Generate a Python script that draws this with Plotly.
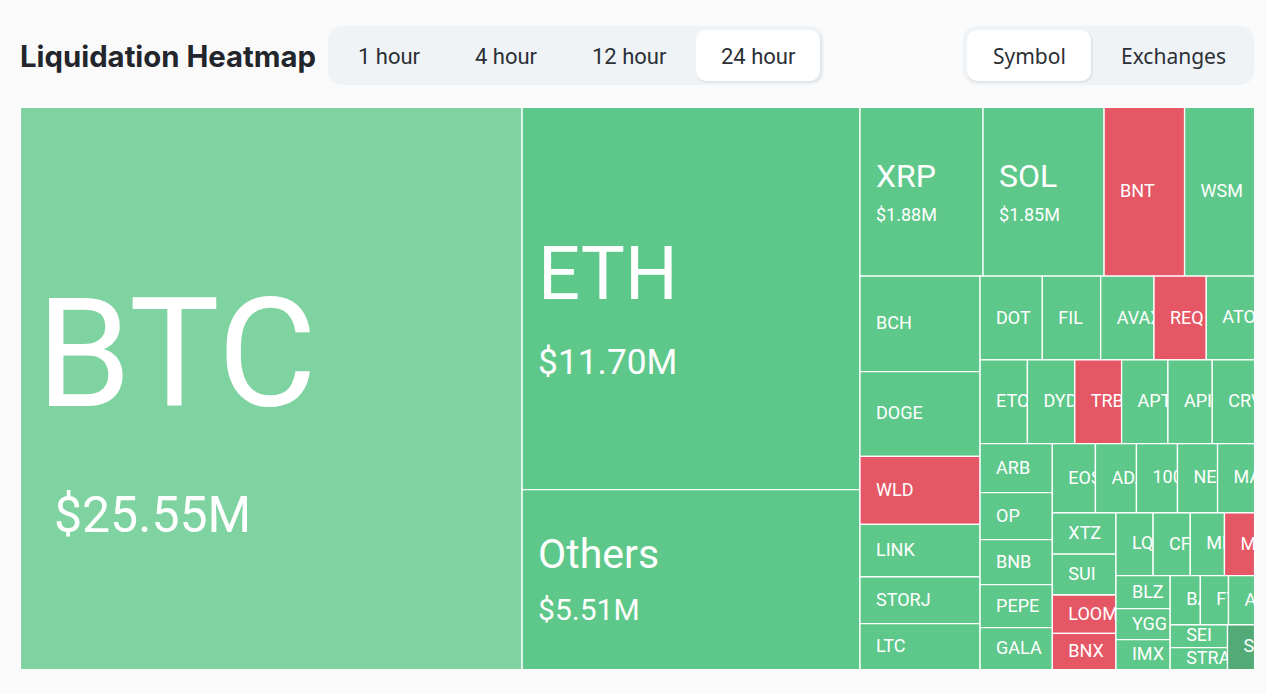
import json
import plotly.graph_objects as go

W = 1267
H = 694

symbols = ["BTC", "ETH", "Others", "XRP", "SOL", "BNT", "WSM",
           "BCH", "DOGE", "WLD", "LINK", "STORJ", "LTC",
           "DOT", "FIL", "AVAX", "REQ", "ATOM",
           "ETC", "DYDX", "TRB", "APT", "API3", "CRV",
           "ARB", "OP", "BNB", "PEPE", "GALA",
           "EOS", "ADA", "1000X", "NEAR", "MANA",
           "XTZ", "SUI", "LOOM", "BNX",
           "LQTY", "CFX", "MKR", "MEME",
           "BLZ", "YGG", "IMX",
           "BAT", "FTM", "AAVE",
           "SEI", "STRAX", "SAND"]
# liquidations in $M, the small ones are estimated from the cell areas
amounts = [25.55, 11.70, 5.51, 1.88, 1.85, 1.23, 1.07,
           1.04, 0.92, 0.74, 0.57, 0.51, 0.50,
           0.473, 0.443, 0.405, 0.397, 0.367,
           0.359, 0.359, 0.355, 0.351, 0.336, 0.321,
           0.321, 0.308, 0.295, 0.281, 0.275,
           0.27, 0.257, 0.257, 0.251, 0.232,
           0.239, 0.235, 0.221, 0.209,
           0.212, 0.212, 0.195, 0.172,
           0.162, 0.152, 0.147,
           0.134, 0.125, 0.116,
           0.119, 0.114, 0.11]
red = ["BNT", "WLD", "REQ", "TRB", "LOOM", "BNX", "MEME"]

# only the biggest cells show the amount: symbol size, amount size, base size
big_sizes = {"BTC": (152, 50, 97), "ETH": (74, 35.3, 58), "Others": (41, 30, 40),
             "XRP": (32, 18, 26), "SOL": (32, 18, 26)}
label_shift = {"BTC": 16, "ETH": 8}
small_size = 18

GREEN = "#5EC88A"
LIGHT = "#7FD3A0"
RED = "#E55765"
DARK = "#52AB77"
FONT = "Roboto"


def cell_color(s):
    if s == "BTC":
        return LIGHT
    if s == "SAND":
        return DARK
    return RED if s in red else GREEN


def cell_text(s, v):
    if s in big_sizes:
        a, b, _ = big_sizes[s]
        pre = "&nbsp;\u200a" if s == "BTC" else ""
        return (f'<span style="font-size:{a}px">{s}</span><br>'
                f'<span style="font-size:{b}px">{pre}${v:.2f}M</span>')
    return s


fig = go.Figure(go.Treemap(
    labels=symbols,
    parents=[""] * len(symbols),
    values=amounts,
    text=[cell_text(s, v) for s, v in zip(symbols, amounts)],
    textinfo="text",
    textposition="middle left",
    textfont=dict(family=FONT, color="white",
                  size=[big_sizes[s][2] if s in big_sizes else small_size for s in symbols]),
    sort=False,
    tiling=dict(packing="squarify", squarifyratio=1.618, pad=0),
    # the pad has to be given, its default breaks with a list of font sizes
    marker=dict(colors=[cell_color(s) for s in symbols], line=dict(color="white", width=1.3),
                pad=dict(t=0, l=0, r=0, b=0)),
    pathbar=dict(visible=False),
    domain=dict(x=[20.4 / W, 1254.6 / W], y=[24.4 / H, 586.6 / H]),
))


def round_box(x0, y0, x1, y1, r, fill):
    # rounded rectangle in pixels of the page
    d = (f"M{x0 + r},{y0} L{x1 - r},{y0} Q{x1},{y0} {x1},{y0 + r} L{x1},{y1 - r} Q{x1},{y1} {x1 - r},{y1} "
         f"L{x0 + r},{y1} Q{x0},{y1} {x0},{y1 - r} L{x0},{y0 + r} Q{x0},{y0} {x0 + r},{y0} Z")
    return dict(type="path", path=d, xref="x", yref="y", fillcolor=fill, line=dict(width=0), layer="below")


shapes = [
    round_box(328, 26, 824, 85, 16, "#F0F3F6"),
    round_box(963, 26, 1254, 85, 16, "#F0F3F6"),
    round_box(696, 31, 822, 83, 12, "rgba(0,0,0,0.05)"),
    round_box(967, 31, 1093, 83, 12, "rgba(0,0,0,0.05)"),
    round_box(696, 30, 820, 81, 12, "white"),
    round_box(967, 30, 1091, 81, 12, "white"),
]

hour_labels = ["1 hour", "4 hour", "12 hour", "24 hour"]
hour_centers = [389, 506, 629, 758]
view_labels = ["Symbol", "Exchanges"]
view_centers = [1029, 1173]

annotations = [dict(x=t_x, y=56, xref="x", yref="y", text=t, showarrow=False,
                    font=dict(family="Roboto", size=22, color="#2B2F36"))
               for t, t_x in zip(hour_labels, hour_centers)]
annotations += [dict(x=t_x, y=56, xref="x", yref="y", text=t, showarrow=False,
                     font=dict(family="Noto Sans", size=21, color="#2B2F36"))
                for t, t_x in zip(view_labels, view_centers)]
annotations.append(dict(x=18, y=56, xref="x", yref="y", text="Liquidation Heatmap", showarrow=False,
                        xanchor="left", font=dict(family="Inter", size=29.3, color="#22252B", weight=700)))

fig.update_layout(
    width=W, height=H,
    margin=dict(l=0, r=0, t=0, b=0),
    paper_bgcolor="#FAFAFA",
    plot_bgcolor="#FAFAFA",
    shapes=shapes,
    annotations=annotations,
    xaxis=dict(range=[0, W], visible=False, domain=[0, 1], fixedrange=True),
    yaxis=dict(range=[H, 0], visible=False, domain=[0, 1], fixedrange=True),
    showlegend=False,
)

# plotly shrinks labels to fit a cell, the original keeps the size and clips them
post = """
document.body.style.margin = '0';
document.body.style.background = '#FAFAFA';
var gd = document.getElementById('{plot_id}');
var ns = 'http://www.w3.org/2000/svg';
var shift = SHIFT;
gd.querySelectorAll('g.slice').forEach(function(g, i) {
  var t = g.querySelector('text.slicetext');
  var p = g.querySelector('path.surface');
  if (!t || !p) return;
  var r = p.getBBox();
  var b = t.getBBox();
  var dy = -1;
  Object.keys(shift).forEach(function(k) { if (t.textContent.indexOf(k) === 0) dy = shift[k]; });
  t.setAttribute('transform', 'translate(' + (r.x + 16 - b.x) + ',' + (r.y + r.height / 2 - b.y - b.height / 2 + dy) + ')');
  var c = document.createElementNS(ns, 'clipPath');
  c.id = 'cell' + i;
  var q = document.createElementNS(ns, 'rect');
  q.setAttribute('x', r.x); q.setAttribute('y', r.y);
  q.setAttribute('width', r.width); q.setAttribute('height', r.height);
  c.appendChild(q);
  g.appendChild(c);
  var w = document.createElementNS(ns, 'g');
  w.setAttribute('clip-path', 'url(#cell' + i + ')');
  g.appendChild(w);
  w.appendChild(t);
});
""".replace("SHIFT", json.dumps(label_shift))

fig.write_html("out.html", post_script=post, config={"displayModeBar": False})
